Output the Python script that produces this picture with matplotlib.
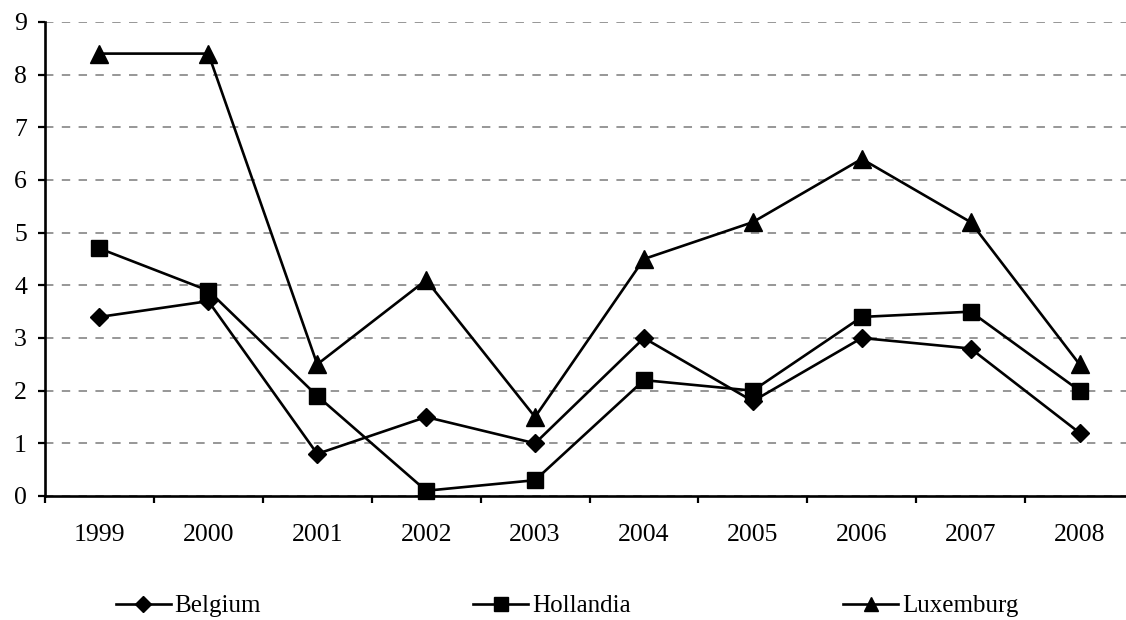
import numpy as np
import matplotlib
matplotlib.use("Agg")
import matplotlib.pyplot as plt

years = ["1999", "2000", "2001", "2002", "2003", "2004", "2005", "2006", "2007", "2008"]
belgium = [3.4, 3.7, 0.8, 1.5, 1.0, 3.0, 1.8, 3.0, 2.8, 1.2]
hollandia = [4.7, 3.9, 1.9, 0.1, 0.3, 2.2, 2.0, 3.4, 3.5, 2.0]
luxemburg = [8.4, 8.4, 2.5, 4.1, 1.5, 4.5, 5.2, 6.4, 5.2, 2.5]

plt.rcParams['font.family'] = ['Liberation Serif', 'DejaVu Serif']

W, H = 1126, 620
fig = plt.figure(figsize=(W / 100, H / 100), dpi=100)
# axes in pixel terms: left 45, right 1134 (runs off the edge), y=0 at 496, y=9 at 22
ax = fig.add_axes([45 / W, 1 - 496 / H, (1134 - 45) / W, (496 - 22) / H])

x = np.arange(len(years))
series = [
    ("Belgium", belgium, "D", 9.5),
    ("Hollandia", hollandia, "s", 11.5),
    ("Luxemburg", luxemburg, "^", 12.5),
]
for name, vals, mk, ms in series:
    ax.plot(x, vals, color="black", lw=1.9, marker=mk, markersize=ms,
            markerfacecolor="black", markeredgecolor="black",
            label=name, clip_on=False, zorder=3)

ax.set_xlim(-0.5, len(years) - 0.5)
ax.set_ylim(0, 9)

# category axis: ticks between categories, labels at centres
ax.set_xticks(np.arange(-0.5, len(years) + 0.5, 1.0))
ax.set_xticklabels([])
ax.set_xticks(x, minor=True)
ax.set_xticklabels(years, minor=True)
ax.tick_params(axis="x", which="major", direction="out", length=5, width=1.6)
ax.tick_params(axis="x", which="minor", length=0, pad=20, labelsize=18.5)

ax.set_yticks(range(0, 10))
ax.tick_params(axis="y", direction="out", length=5, width=1.6, pad=8, labelsize=18.5)

ax.yaxis.grid(True, color="#7a7a7a", lw=1.1, linestyle=(0, (5.5, 5.5)))
ax.set_axisbelow(True)

for side in ["top", "right"]:
    ax.spines[side].set_visible(False)
for side in ["left", "bottom"]:
    ax.spines[side].set_linewidth(1.9)

fig.legend(loc="center left", bbox_to_anchor=(103 / W, 1 - 606 / H), ncol=3,
           frameon=False, fontsize=18, handlelength=2.2, handletextpad=0.15,
           columnspacing=8.5, borderpad=0, markerscale=0.85)

fig.savefig("out.png", dpi=100)
